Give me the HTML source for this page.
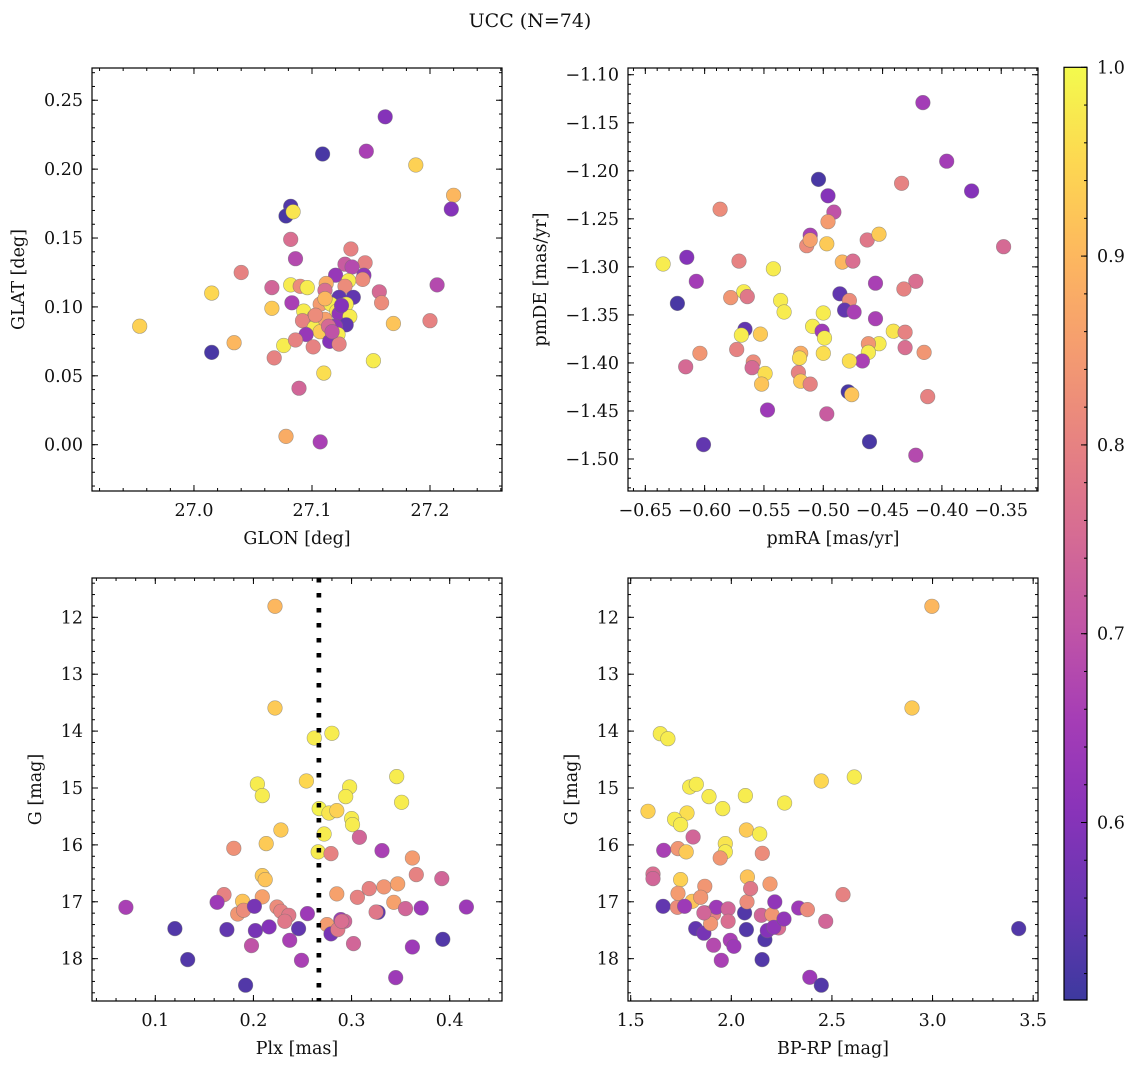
<!DOCTYPE html>
<html><head><meta charset="utf-8"><style>
html,body{margin:0;padding:0;background:#fff}
svg{display:block}
text{font-family:"DejaVu Serif","Liberation Serif",serif;fill:#111}
</style></head><body>
<svg id="fig" width="1136" height="1067" viewBox="0 0 1136 1067" xmlns="http://www.w3.org/2000/svg">
<text x="530" y="27" font-size="19" text-anchor="middle">UCC (N=74)</text>
</svg>
<script>
// ---- data ----
const p1x=[27.162,27.109,27.146,27.188,27.220,27.218,27.082,27.078,27.084,27.082,27.086,27.040,27.133,27.145,27.128,27.134,27.120,27.144,27.143,27.015,27.066,27.082,27.090,27.096,27.112,27.131,27.111,27.128,27.123,27.135,27.157,27.159,27.206,27.066,27.083,27.107,27.116,27.129,27.121,27.123,27.093,27.132,27.102,27.106,27.092,27.114,27.129,27.120,27.102,27.107,27.122,27.095,27.169,27.200,26.954,27.015,27.034,27.076,27.086,27.115,27.123,27.101,27.068,27.152,27.110,27.089,27.078,27.107,27.111,27.114,27.103,27.117,27.111,27.125];
const p1y=[0.238,0.211,0.213,0.203,0.181,0.171,0.173,0.166,0.169,0.149,0.135,0.125,0.142,0.132,0.131,0.129,0.123,0.123,0.120,0.110,0.114,0.116,0.115,0.114,0.117,0.119,0.112,0.115,0.107,0.107,0.111,0.103,0.116,0.099,0.103,0.102,0.102,0.102,0.097,0.095,0.097,0.093,0.093,0.091,0.090,0.087,0.087,0.086,0.085,0.082,0.080,0.080,0.088,0.090,0.086,0.067,0.074,0.072,0.076,0.075,0.073,0.071,0.063,0.061,0.052,0.041,0.006,0.002,0.091,0.086,0.094,0.082,0.106,0.101];
const p1c=[0.60,0.52,0.66,0.94,0.90,0.60,0.53,0.52,0.97,0.76,0.68,0.80,0.80,0.80,0.72,0.68,0.63,0.62,0.82,0.95,0.74,0.98,0.82,0.98,0.88,0.98,0.76,0.82,0.55,0.55,0.75,0.82,0.68,0.93,0.66,0.85,0.98,0.98,0.97,0.62,0.98,0.98,0.80,0.80,0.80,0.78,0.55,0.62,0.98,0.93,0.98,0.63,0.92,0.80,0.94,0.52,0.90,0.98,0.80,0.60,0.80,0.80,0.80,0.98,0.96,0.74,0.88,0.66,0.86,0.75,0.82,0.70,0.90,0.60];

const p2x=[-0.416,-0.396,-0.375,-0.434,-0.348,-0.504,-0.496,-0.491,-0.587,-0.496,-0.463,-0.453,-0.511,-0.514,-0.511,-0.497,-0.635,-0.615,-0.607,-0.571,-0.542,-0.484,-0.475,-0.422,-0.432,-0.623,-0.578,-0.567,-0.564,-0.536,-0.533,-0.486,-0.478,-0.482,-0.474,-0.456,-0.456,-0.500,-0.566,-0.569,-0.553,-0.509,-0.501,-0.499,-0.500,-0.441,-0.431,-0.431,-0.415,-0.453,-0.462,-0.462,-0.467,-0.478,-0.519,-0.520,-0.604,-0.616,-0.573,-0.559,-0.560,-0.549,-0.552,-0.521,-0.519,-0.511,-0.479,-0.476,-0.412,-0.547,-0.497,-0.601,-0.461,-0.422];
const p2y=[-1.129,-1.190,-1.221,-1.213,-1.279,-1.209,-1.226,-1.243,-1.240,-1.253,-1.272,-1.266,-1.267,-1.278,-1.272,-1.276,-1.297,-1.290,-1.315,-1.294,-1.302,-1.295,-1.294,-1.315,-1.323,-1.338,-1.332,-1.326,-1.331,-1.335,-1.347,-1.328,-1.335,-1.345,-1.347,-1.317,-1.354,-1.348,-1.365,-1.371,-1.370,-1.362,-1.367,-1.374,-1.390,-1.367,-1.368,-1.384,-1.389,-1.380,-1.380,-1.389,-1.398,-1.398,-1.390,-1.395,-1.390,-1.404,-1.386,-1.399,-1.405,-1.411,-1.422,-1.410,-1.419,-1.422,-1.430,-1.433,-1.435,-1.449,-1.453,-1.485,-1.482,-1.496];
const p2c=[0.65,0.65,0.60,0.80,0.75,0.52,0.60,0.70,0.82,0.85,0.78,0.93,0.66,0.82,0.86,0.93,0.98,0.60,0.65,0.80,0.98,0.90,0.76,0.76,0.80,0.52,0.84,0.98,0.78,0.98,0.98,0.55,0.82,0.55,0.66,0.66,0.66,0.98,0.55,0.98,0.93,0.98,0.64,0.98,0.96,0.97,0.80,0.76,0.84,0.98,0.84,0.98,0.66,0.96,0.88,0.96,0.84,0.75,0.80,0.82,0.75,0.96,0.92,0.80,0.93,0.80,0.52,0.92,0.80,0.64,0.72,0.55,0.52,0.68];

const p3x=[0.222,0.222,0.262,0.280,0.346,0.204,0.209,0.254,0.298,0.294,0.351,0.267,0.277,0.285,0.300,0.301,0.228,0.272,0.213,0.266,0.279,0.180,0.308,0.331,0.362,0.366,0.392,0.209,0.212,0.170,0.163,0.189,0.184,0.190,0.209,0.201,0.224,0.228,0.236,0.232,0.255,0.275,0.285,0.289,0.293,0.279,0.286,0.306,0.302,0.318,0.333,0.347,0.343,0.327,0.325,0.355,0.371,0.417,0.070,0.120,0.173,0.202,0.216,0.246,0.198,0.237,0.249,0.133,0.192,0.362,0.393,0.345,0.290];
const p3y=[11.807,13.594,14.121,14.039,14.800,14.929,15.134,14.877,14.982,15.152,15.251,15.363,15.439,15.398,15.538,15.644,15.738,15.808,15.978,16.124,16.154,16.060,15.867,16.101,16.230,16.523,16.593,16.540,16.610,16.874,17.009,16.991,17.214,17.149,16.915,17.079,17.091,17.167,17.237,17.343,17.208,17.401,16.862,17.313,17.343,17.565,17.489,16.921,17.735,16.768,16.739,16.686,17.009,17.185,17.179,17.120,17.109,17.091,17.097,17.472,17.489,17.507,17.442,17.472,17.770,17.677,18.028,18.016,18.467,17.794,17.659,18.333,17.343];
const p3c=[0.90,0.93,0.98,0.98,0.98,0.98,0.98,0.95,0.98,0.98,0.98,0.99,0.97,0.94,0.98,0.98,0.93,0.98,0.93,0.98,0.80,0.83,0.74,0.66,0.85,0.80,0.74,0.93,0.92,0.80,0.64,0.92,0.84,0.82,0.86,0.58,0.82,0.80,0.78,0.78,0.64,0.85,0.86,0.64,0.74,0.58,0.78,0.80,0.74,0.80,0.84,0.86,0.86,0.55,0.78,0.74,0.64,0.64,0.66,0.53,0.55,0.58,0.60,0.55,0.70,0.66,0.66,0.53,0.53,0.64,0.53,0.64,0.76];
const plxLine=[0.2667];

const p4x=[2.997,2.898,1.647,1.685,2.611,1.793,1.826,2.447,1.586,1.780,1.718,1.748,1.889,1.957,2.070,2.265,2.075,2.141,1.810,1.970,1.970,1.945,2.154,1.664,1.735,1.776,1.611,1.611,1.661,1.732,1.748,1.735,1.806,1.868,1.848,1.868,1.897,1.912,1.823,1.864,1.926,1.984,1.984,1.897,1.995,1.912,1.950,2.013,2.066,2.075,2.078,2.080,2.096,2.149,2.202,2.167,2.153,2.216,2.179,2.235,2.211,2.192,2.262,2.335,2.378,2.390,2.447,2.469,2.555,3.428,1.768,1.864];
const p4y=[11.807,13.594,14.045,14.133,14.806,14.982,14.935,14.877,15.410,15.439,15.550,15.644,15.152,15.363,15.134,15.263,15.738,15.808,15.861,15.978,16.124,16.230,16.148,16.095,16.066,16.124,16.511,16.593,17.079,17.097,16.610,16.851,16.991,16.728,16.921,17.196,17.196,17.214,17.472,17.553,17.097,17.126,17.343,17.384,17.677,17.764,18.028,17.782,17.196,17.489,17.003,16.564,16.769,17.237,17.226,17.665,18.016,17.003,17.507,17.460,17.448,16.687,17.302,17.109,17.138,18.327,18.467,17.343,16.874,17.472,17.079,17.196];
const p4c=[0.90,0.93,0.98,0.98,0.98,0.98,0.98,0.95,0.94,0.96,0.98,0.98,0.98,0.98,0.98,0.98,0.93,0.98,0.74,0.97,0.98,0.84,0.82,0.66,0.84,0.93,0.76,0.74,0.55,0.82,0.94,0.85,0.92,0.84,0.84,0.62,0.80,0.80,0.55,0.58,0.64,0.74,0.76,0.84,0.66,0.68,0.66,0.64,0.53,0.53,0.82,0.92,0.78,0.74,0.84,0.53,0.53,0.62,0.60,0.76,0.62,0.85,0.62,0.64,0.82,0.64,0.53,0.74,0.80,0.53,0.64,0.74];

const cmin=0.506, cmax=1.0;
const cbTicks=[0.6,0.7,0.8,0.9,1.0];

// ---- helpers ----
const NS="http://www.w3.org/2000/svg";
const svg=document.getElementById('fig');
const FS=17.5;
function mk(tag,attrs,parent){const e=document.createElementNS(NS,tag);for(const k in attrs)e.setAttribute(k,attrs[k]);(parent||svg).appendChild(e);return e;}
const stops=[[13,8,135],[65,4,157],[106,0,168],[143,13,164],[177,42,144],[204,71,120],[225,100,98],[242,132,75],[252,166,54],[252,206,37],[240,249,33]];
function plasma(t){t=Math.max(0,Math.min(1,t));const f=t*10,i=Math.min(9,Math.floor(f)),u=f-i;const a=stops[i],b=stops[i+1];
 const c=[0,1,2].map(k=>Math.round((a[k]+(b[k]-a[k])*u)*0.8+255*0.2));return `rgb(${c[0]},${c[1]},${c[2]})`;}
function lin(d0,d1,r0,r1){return v=>r0+(v-d0)/(d1-d0)*(r1-r0);}
function fmt(v,dec){let s=v.toFixed(dec);return s.replace('-','\u2212');}

function panel(cfg){
 const g=mk('g',{});
 
 
 const {L,T,R,B}=cfg;
 const sx=lin(cfg.xd[0],cfg.xd[1],L,R), sy=lin(cfg.yd[0],cfg.yd[1],B,T);
 if(cfg.vline){const vl=mk('line',{x1:sx(cfg.vline[0]),x2:sx(cfg.vline[0]),y1:T,y2:B,stroke:'#000','stroke-width':4.5,'stroke-dasharray':'4.5 10.5'},g);
  }
 const pts=mk('g',{},g);
 
 for(let i=0;i<cfg.x.length;i++){
  const c=mk('circle',{cx:sx(cfg.x[i]).toFixed(1),cy:sy(cfg.y[i]).toFixed(1),r:7.3,fill:plasma((cfg.c[i]-cmin)/(cmax-cmin)),stroke:'rgba(110,110,110,0.6)','stroke-width':0.6},pts);
  
  
 }
 if(cfg.vline){mk('line',{x1:sx(cfg.vline[0]),x2:sx(cfg.vline[0]),y1:T,y2:B,stroke:'#000','stroke-width':4.5,'stroke-dasharray':'4.5 10.5'},g);}
 const fr=mk('rect',{x:L,y:T,width:R-L,height:B-T,fill:'none',stroke:'#000','stroke-width':1.2},g);
 
 const eps=1e-9;
 function ticksX(step,len){const s=Math.ceil(Math.min(...cfg.xd)/step-eps);const e=Math.floor(Math.max(...cfg.xd)/step+eps);
  for(let k=s;k<=e;k++){const x=sx(k*step);mk('line',{x1:x,x2:x,y1:B,y2:B-len,stroke:'#000','stroke-width':1},g);mk('line',{x1:x,x2:x,y1:T,y2:T+len,stroke:'#000','stroke-width':1},g);}}
 function ticksY(step,len){const s=Math.ceil(Math.min(...cfg.yd)/step-eps);const e=Math.floor(Math.max(...cfg.yd)/step+eps);
  for(let k=s;k<=e;k++){const y=sy(k*step);mk('line',{x1:L,x2:L+len,y1:y,y2:y,stroke:'#000','stroke-width':1},g);mk('line',{x1:R,x2:R-len,y1:y,y2:y,stroke:'#000','stroke-width':1},g);}}
 ticksX(cfg.xminor,3);ticksX(cfg.xmajor,6);ticksY(cfg.yminor,3);ticksY(cfg.ymajor,6);
 for(const v of cfg.xticks){const t=mk('text',{x:sx(v),y:B+25,'font-size':FS,'text-anchor':'middle'},g);t.textContent=fmt(v,cfg.xdec);
  }
 for(const v of cfg.yticks){const t=mk('text',{x:L-9,y:sy(v)+6,'font-size':FS,'text-anchor':'end'},g);t.textContent=fmt(v,cfg.ydec);
  }
 const xl=mk('text',{x:(L+R)/2,y:B+53,'font-size':FS,'text-anchor':'middle'},g);xl.textContent=cfg.xlabel;
 
 const yx=cfg.ylx, yy=(T+B)/2;
 const yl=mk('text',{x:yx,y:yy,'font-size':FS,'text-anchor':'middle',transform:`rotate(-90 ${yx} ${yy})`},g);yl.textContent=cfg.ylabel;
 
}

panel({name:'glon-glat-panel',L:92,T:68,R:502,B:491,xd:[26.9136,27.2610],yd:[-0.0336,0.2734],x:p1x,y:p1y,c:p1c,
 xmajor:0.1,xminor:0.02,ymajor:0.05,yminor:0.01,xticks:[27.0,27.1,27.2],yticks:[0,0.05,0.1,0.15,0.2,0.25],xdec:1,ydec:2,
 xlabel:'GLON [deg]',ylabel:'GLAT [deg]',ylx:24});
panel({name:'proper-motion-panel',L:628,T:68,R:1038,B:491,xd:[-0.6646,-0.3190],yd:[-1.5333,-1.0930],x:p2x,y:p2y,c:p2c,
 xmajor:0.05,xminor:0.01,ymajor:0.05,yminor:0.01,xticks:[-0.65,-0.6,-0.55,-0.5,-0.45,-0.4,-0.35],yticks:[-1.5,-1.45,-1.4,-1.35,-1.3,-1.25,-1.2,-1.15,-1.1],xdec:2,ydec:2,
 xlabel:'pmRA [mas/yr]',ylabel:'pmDE [mas/yr]',ylx:546});
panel({name:'parallax-g-panel',L:92,T:578,R:502,B:1001,xd:[0.0355,0.4533],yd:[18.744,11.309],x:p3x,y:p3y,c:p3c,vline:plxLine,
 xmajor:0.1,xminor:0.02,ymajor:1,yminor:0.2,xticks:[0.1,0.2,0.3,0.4],yticks:[12,13,14,15,16,17,18],xdec:1,ydec:0,
 xlabel:'Plx [mas]',ylabel:'G [mag]',ylx:41});
panel({name:'cmd-panel',L:628,T:578,R:1038,B:1001,xd:[1.4866,3.524],yd:[18.744,11.309],x:p4x,y:p4y,c:p4c,
 xmajor:0.5,xminor:0.1,ymajor:1,yminor:0.2,xticks:[1.5,2.0,2.5,3.0,3.5],yticks:[12,13,14,15,16,17,18],xdec:1,ydec:0,
 xlabel:'BP-RP [mag]',ylabel:'G [mag]',ylx:577});

// colorbar
(function(){
 const L=1064,R=1087,T=67.3,B=1000;
 const cb=mk('g',{});
 
 const defs=mk('defs',{},cb);
 const lg=mk('linearGradient',{id:'cbg',x1:0,y1:1,x2:0,y2:0},defs);
 for(let i=0;i<=20;i++){mk('stop',{offset:i/20,'stop-color':plasma(i/20)},lg);}
 mk('rect',{x:L,y:T,width:R-L,height:B-T,fill:'url(#cbg)',stroke:'#000','stroke-width':1.2},cb);
 const sc=lin(cmin,cmax,B,T);
 for(let k=Math.ceil(cmin/0.02);k<=Math.floor(cmax/0.02+1e-9);k++){const y=sc(k*0.02);mk('line',{x1:R,x2:R-3,y1:y,y2:y,stroke:'#000','stroke-width':1},cb);}
 for(const v of cbTicks){const y=sc(v);mk('line',{x1:R,x2:R-6,y1:y,y2:y,stroke:'#000','stroke-width':1},cb);
  const t=mk('text',{x:R+10,y:y+6,'font-size':FS},cb);t.textContent=v.toFixed(1);
  }
})();
</script>
</body></html>
